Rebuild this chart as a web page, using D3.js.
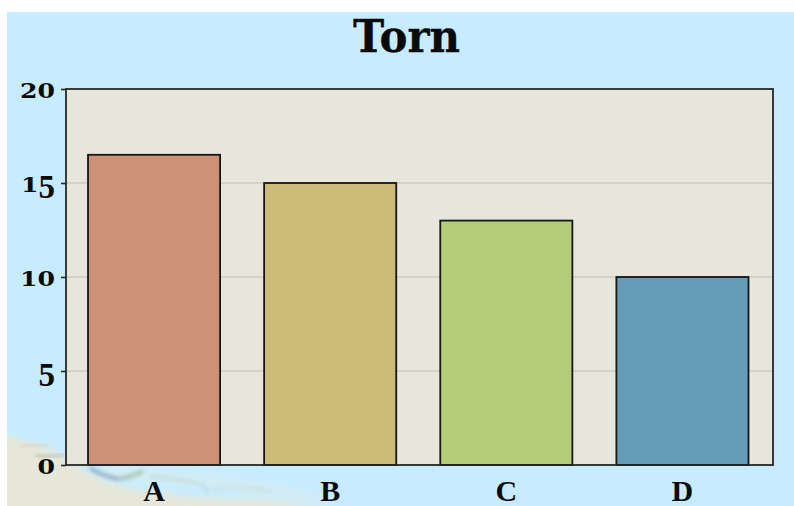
<!DOCTYPE html>
<html>
<head>
<meta charset="utf-8">
<script src="https://cdn.jsdelivr.net/npm/d3@7/dist/d3.min.js"></script>
<style>
html,body{margin:0;padding:0;background:#fff;}
svg{display:block;}
text{font-family:"DejaVu Serif",serif;fill:#0a0a0a;}
</style>
</head>
<body>
<svg id="chart" width="794" height="506"></svg>
<script>
const chartTitle = "Torn";
const categories = ["A", "B", "C", "D"];
const values = [16.5, 15, 13, 10];
const barColors = ["#cd9178", "#cdbb78", "#b4cd78", "#659db9"];
const yTicks = [0, 5, 10, 15, 20];

const svg = d3.select("#chart");
const frame = {left: 66, right: 773, top: 89, bottom: 465};

const y = d3.scaleLinear().domain([0, 20]).range([frame.bottom, frame.top]);
const x = d3.scaleBand().domain(categories).range([66, 770.5])
  .paddingInner(0.25).paddingOuter(0.125);

// Sky-blue map backdrop with the coastline in the lower left corner
const defs = svg.append("defs");
const blur = (id, sd) => defs.append("filter").attr("id", id)
  .attr("x", "-20%").attr("y", "-80%").attr("width", "140%").attr("height", "260%")
  .append("feGaussianBlur").attr("stdDeviation", sd);
blur("soft", 2);
blur("land", 3.4);
blur("wash", 4);
defs.append("clipPath").attr("id", "mapClip")
  .append("rect").attr("x", 7).attr("y", 12).attr("width", 787).attr("height", 494);

const map = svg.append("g").attr("clip-path", "url(#mapClip)");
map.append("rect").attr("x", 7).attr("y", 12).attr("width", 787).attr("height", 494)
  .attr("fill", "#c8ecff");

const line = d3.line().curve(d3.curveBasis);
const land = [[0, 432], [20, 440], [45, 446], [62, 456], [82, 468], [100, 480], [130, 489],
  [165, 493], [195, 498], [235, 499], [275, 499], [305, 504], [325, 514], [0, 514]];
map.append("path").attr("d", line(land) + "Z").attr("fill", "#e6e7d9")
  .attr("filter", "url(#land)");

// Pale shallow water along the shore
const shallows = [[100, 470], [140, 474], [185, 480], [235, 486], [285, 492], [325, 506]];
map.append("path").attr("d", line(shallows)).attr("fill", "none")
  .attr("stroke", "#d4ecf3").attr("stroke-width", 12).attr("filter", "url(#wash)");

// Darker reefs and stains picked out along the coast
const coast = [
  {pts: [[90, 468], [102, 475], [118, 479]], color: "#6f859f", w: 2.4},
  {pts: [[118, 479], [130, 477], [143, 471]], color: "#8aa684", w: 2.4},
  {pts: [[150, 476], [180, 480], [205, 484], [208, 493]], color: "#b4cdc4", w: 1.6},
  {pts: [[212, 490], [240, 486], [272, 492]], color: "#c0d5cc", w: 1.4},
  {pts: [[20, 446], [32, 444], [48, 446]], color: "#d8d0c4", w: 2.4},
  {pts: [[36, 456], [50, 457], [64, 455]], color: "#a8bc98", w: 2.4}
];
coast.forEach(c => map.append("path").attr("d", line(c.pts)).attr("fill", "none")
  .attr("stroke", c.color).attr("stroke-width", c.w).attr("filter", "url(#soft)"));

// Plot area
svg.append("rect").attr("x", frame.left).attr("y", frame.top)
  .attr("width", frame.right - frame.left).attr("height", frame.bottom - frame.top)
  .attr("fill", "#e6e6da");

svg.append("g").selectAll("line").data(yTicks.filter(t => t > 0 && t < 20)).join("line")
  .attr("x1", frame.left).attr("x2", frame.right)
  .attr("y1", d => y(d)).attr("y2", d => y(d))
  .attr("stroke", "#cbcbc0").attr("stroke-width", 1.5);

// Bars
svg.append("g").selectAll("rect").data(categories).join("rect")
  .attr("x", d => x(d))
  .attr("y", (d, i) => y(values[i]))
  .attr("width", x.bandwidth())
  .attr("height", (d, i) => y(0) - y(values[i]))
  .attr("fill", (d, i) => barColors[i])
  .attr("stroke", "#161616").attr("stroke-width", 1.8);

svg.append("rect").attr("x", frame.left).attr("y", frame.top)
  .attr("width", frame.right - frame.left).attr("height", frame.bottom - frame.top)
  .attr("fill", "none").attr("stroke", "#262626").attr("stroke-width", 1.8);

// Y axis: wide low numerals, with a taller 5 hanging below the baseline
const yAxis = svg.append("g").attr("transform", `translate(${frame.left},0)`)
  .call(d3.axisLeft(y).tickValues(yTicks).tickSize(5).tickPadding(0));
yAxis.select(".domain").remove();
yAxis.selectAll("line").attr("stroke", "#262626").attr("stroke-width", 1.6);
yAxis.selectAll("text")
  .attr("x", -11).attr("y", 8.8).attr("dy", null).attr("text-anchor", "end")
  .style("font-family", '"DejaVu Serif",serif').style("font-weight", "bold")
  .style("font-size", "21px")
  .each(function () {
    const label = d3.select(this);
    const digits = label.text().split("");
    label.text(null);
    digits.forEach(ch => {
      const span = label.append("tspan").text(ch);
      if (ch === "5") {
        span.attr("dy", 6).style("font-family", '"Liberation Serif",serif')
          .style("font-size", "33px");
      } else {
        span.attr("textLength", 17.5).attr("lengthAdjust", "spacingAndGlyphs");
      }
    });
  });

// X axis
const xAxis = svg.append("g").attr("transform", `translate(0,${frame.bottom})`)
  .call(d3.axisBottom(x).tickSize(0).tickPadding(0));
xAxis.select(".domain").remove();
xAxis.selectAll("text").attr("y", 35.5).attr("dy", null)
  .style("font-family", '"Liberation Serif",serif').style("font-weight", "bold")
  .style("font-size", "30px");

// Title
svg.append("text").attr("x", 406.5).attr("y", 52).attr("text-anchor", "middle")
  .attr("textLength", 107).attr("lengthAdjust", "spacingAndGlyphs")
  .attr("stroke", "#0a0a0a").attr("stroke-width", 0.3)
  .style("font-weight", "bold").style("font-size", "44px").text(chartTitle);
</script>
</body>
</html>
